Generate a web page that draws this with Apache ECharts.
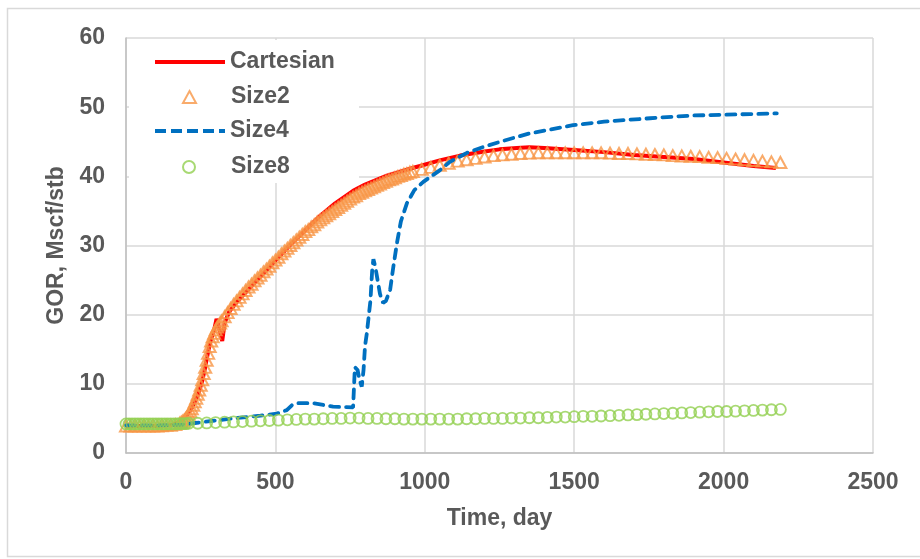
<!DOCTYPE html>
<html>
<head>
<meta charset="utf-8">
<script src="https://cdn.jsdelivr.net/npm/echarts@6/dist/echarts.min.js"></script>
<style>
  html, body { margin: 0; padding: 0; background: #fff; }
  #chart { width: 920px; height: 559px; }
</style>
</head>
<body>
<div id="chart"></div>
<script>
// x axis ticks
const xTicks = [0, 500, 1000, 1500, 2000, 2500];
const yTicks = [0, 10, 20, 30, 40, 50, 60];

// Cartesian (red line)
const cartDays = [0, 20, 100, 150, 175, 200, 220, 240, 255, 265, 275, 285, 295, 303, 312, 322, 330, 345,
    370, 400, 450, 500, 550, 600, 650, 700, 760, 800, 873, 950, 984, 1050, 1118, 1200, 1250, 1308,
    1350, 1400, 1500, 1600, 1700, 1800, 1900, 2000, 2100, 2175];
const cartGor = [3.8, 3.9, 3.9, 4.0, 4.4, 5.3, 6.5, 8.3, 10.4, 12.4, 14.7, 16.5, 17.8, 19.4, 18.0, 16.2, 18.8, 20.4,
    21.8, 23.2, 25.5, 27.8, 30.1, 32.2, 34.3, 36.1, 37.9, 38.8, 40.1, 41.1, 41.5, 42.3, 43.0, 43.6, 43.9, 44.1,
    44.2, 44.1, 43.8, 43.5, 43.1, 42.8, 42.5, 42.0, 41.5, 41.2];

// Size2 (orange triangles)
const size2Days = [0, 15, 30, 45, 60, 75, 90, 105, 120, 135, 150, 165, 180,
    185, 190, 195, 200, 205, 210, 215, 220, 225, 230, 235, 240, 245, 250, 255, 260, 265, 270,
    275, 280, 285, 290, 295, 300, 305, 310, 315, 320,
    330, 340, 350, 360, 370, 380, 390, 400, 410, 420, 430, 440, 450, 460, 470, 480, 490, 500,
    510, 520, 530, 540, 550, 560, 570, 580, 590, 600, 610, 620, 630, 640, 650, 660, 670, 680,
    690, 700, 710, 720, 730, 740, 750, 760, 770, 780, 790, 800, 810, 820, 830, 840, 850, 860,
    870, 880, 890, 900, 910, 920, 930, 940, 950,
    960, 990, 1020, 1050, 1080, 1110, 1140, 1170, 1200, 1230, 1260, 1290, 1320, 1350, 1380,
    1410, 1440, 1470, 1500, 1530, 1560, 1590, 1620, 1650, 1680, 1710, 1740, 1770, 1800, 1830,
    1860, 1890, 1920, 1950, 1980, 2010, 2040, 2070, 2100, 2130, 2160, 2190];
const size2Gor = [3.9, 3.9, 3.9, 3.9, 3.9, 3.9, 3.9, 3.9, 3.95, 4.0, 4.0, 4.1, 4.3,
    4.45, 4.6, 4.8, 5.0, 5.3, 5.6, 6.0, 6.4, 6.9, 7.4, 7.9, 8.5, 9.1, 9.8, 10.6, 11.5, 12.4, 13.4,
    14.4, 15.4, 16.2, 16.8, 17.3, 17.8, 18.2, 18.5, 18.8, 19.1,
    19.7, 20.3, 20.9, 21.5, 22.0, 22.5, 23.0, 23.5, 24.0, 24.4, 24.9, 25.3, 25.7, 26.2, 26.6, 27.0, 27.5, 27.9,
    28.3, 28.8, 29.2, 29.6, 30.0, 30.4, 30.8, 31.2, 31.6, 32.0, 32.3, 32.7, 33.0, 33.4, 33.7, 34.0, 34.3, 34.6,
    34.9, 35.2, 35.5, 35.8, 36.1, 36.4, 36.7, 37.0, 37.2, 37.5, 37.7, 37.9, 38.1, 38.3, 38.5, 38.7, 38.9, 39.1,
    39.3, 39.5, 39.6, 39.8, 40.0, 40.1, 40.3, 40.4, 40.6,
    40.7, 41.0, 41.3, 41.6, 41.9, 42.2, 42.4, 42.6, 42.8, 43.0, 43.1, 43.2, 43.3, 43.35, 43.4,
    43.4, 43.4, 43.4, 43.4, 43.4, 43.4, 43.4, 43.35, 43.3, 43.3, 43.25, 43.2, 43.15, 43.1, 43.0,
    42.95, 42.9, 42.85, 42.75, 42.7, 42.6, 42.5, 42.4, 42.3, 42.2, 42.1, 42.0];

// Size4 (blue dashed line)
const size4Days = [0, 100, 190, 224, 300, 359, 450, 505, 538, 555, 572, 626, 693, 760, 763, 766, 775, 782,
    789, 795, 800, 806, 812, 818, 824, 828, 834, 840, 850, 860, 870, 884, 895, 907, 920, 940, 965, 995,
    1051, 1084, 1141, 1200, 1252, 1350, 1496, 1600, 1754, 1900, 2088, 2178];
const size4Gor = [4.0, 4.0, 4.1, 4.3, 4.7, 5.0, 5.4, 5.7, 6.2, 6.9, 7.2, 7.2, 6.7, 6.6, 9.5, 12.4, 12.0, 10.5,
    9.6, 12.0, 15.5, 17.3, 17.5, 22.0, 26.5, 28.0, 27.0, 25.5, 23.0, 21.7, 22.0, 23.6, 27.0, 30.4, 33.5, 36.1, 38.0, 39.2,
    40.9, 42.1, 43.4, 44.3, 45.0, 46.2, 47.4, 47.9, 48.4, 48.8, 49.0, 49.1];

// Size8 (green circles)
const size8Days = [0, 10, 20, 30, 40, 50, 60, 70, 80, 90, 100, 110, 120, 130, 140, 150, 160, 170, 180, 190, 200,
    210, 240, 270, 300, 330, 360, 390, 420, 450, 480, 510, 540, 570, 600, 630, 660, 690, 720, 750, 780,
    810, 840, 870, 900, 930, 960, 990, 1020, 1050, 1080, 1110, 1140, 1170, 1200, 1230, 1260, 1290, 1320,
    1350, 1380, 1410, 1440, 1470, 1500, 1530, 1560, 1590, 1620, 1650, 1680, 1710, 1740, 1770, 1800, 1830,
    1860, 1890, 1920, 1950, 1980, 2010, 2040, 2070, 2100, 2130, 2160, 2190];
const size8Gor = [4.2, 4.2, 4.2, 4.2, 4.2, 4.2, 4.2, 4.2, 4.2, 4.2, 4.2, 4.2, 4.2, 4.2, 4.2, 4.2, 4.2, 4.2, 4.25, 4.25, 4.25,
    4.3, 4.3, 4.35, 4.4, 4.45, 4.5, 4.55, 4.6, 4.65, 4.7, 4.75, 4.8, 4.85, 4.9, 4.9, 4.95, 5.0, 5.0, 5.05, 5.05,
    5.0, 5.0, 4.95, 4.95, 4.9, 4.9, 4.9, 4.9, 4.9, 4.9, 4.9, 4.95, 4.95, 5.0, 5.0, 5.0, 5.05, 5.05,
    5.1, 5.1, 5.15, 5.2, 5.2, 5.25, 5.3, 5.3, 5.35, 5.4, 5.45, 5.5, 5.55, 5.6, 5.65, 5.7, 5.75,
    5.8, 5.85, 5.9, 5.95, 6.0, 6.0, 6.05, 6.1, 6.15, 6.2, 6.25, 6.3];

const labelGray = '#595959';
const fontFam = '"Liberation Sans", Arial, sans-serif';

// 범례 아이콘 (점선)
const dashIcon = 'path://M0,0h11v4h-11zM16,0h11v4h-11zM32,0h11v4h-11zM48,0h11v4h-11zM64,0h6v4h-6z';

function pairs(xs, ys) {
    return xs.map((x, i) => [x, ys[i]]);
}

// 범례 한 줄씩 따로 배치 (텍스트 시작 x=230 맞춤)
function legendRow(name, icon, left, top, w, h, padLeft) {
    return {
        data: [{ name: name, icon: icon }],
        left: left,
        top: top,
        padding: 0,
        itemWidth: w,
        itemHeight: h,
        selectedMode: false,
        textStyle: {
            fontSize: 23, fontWeight: 'bold', color: labelGray, fontFamily: fontFam,
            lineHeight: 26, padding: [0, 0, 0, padLeft]
        }
    };
}

let myChart = echarts.init(document.getElementById('chart'));

let option = {
    animation: false,
    backgroundColor: '#fff',
    graphic: [
        {
            type: 'rect', z: 0,
            shape: { x: 7.5, y: 8.5, width: 920, height: 548 },
            style: { fill: 'none', stroke: '#D9D9D9', lineWidth: 1.5 }
        },
        {
            // legend box covers gridlines
            type: 'rect', z: 1,
            shape: { x: 129, y: 40, width: 230, height: 143 },
            style: { fill: '#fff' }
        }
    ],
    legend: [
        legendRow('Cartesian', 'rect', 155, 49, 70, 4, 0),
        legendRow('Size2', 'triangle', 182, 84, 13, 12, 30),
        legendRow('Size4', dashIcon, 155, 118, 70, 4, 0),
        legendRow('Size8', 'circle', 182, 154, 12, 12, 31)
    ],
    grid: { left: 126, right: 47, top: 38, bottom: 106 },
    xAxis: {
        type: 'value',
        min: xTicks[0],
        max: xTicks[xTicks.length - 1],
        interval: 500,
        name: 'Time, day',
        nameLocation: 'middle',
        nameGap: 54,
        nameTextStyle: { fontSize: 23, fontWeight: 'bold', color: labelGray, fontFamily: fontFam },
        axisLine: { show: true, lineStyle: { color: '#BFBFBF', width: 1.5 } },
        axisTick: { show: false },
        axisLabel: {
            margin: 18, fontSize: 23, fontWeight: 'bold', color: labelGray, fontFamily: fontFam,
            formatter: (v) => String(v)
        },
        splitLine: { show: true, lineStyle: { color: '#D9D9D9', width: 1.5 } }
    },
    yAxis: {
        type: 'value',
        min: yTicks[0],
        max: yTicks[yTicks.length - 1],
        interval: 10,
        name: 'GOR, Mscf/stb',
        nameLocation: 'middle',
        nameGap: 58,
        nameTextStyle: { fontSize: 23, fontWeight: 'bold', color: labelGray, fontFamily: fontFam },
        axisLine: { show: true, lineStyle: { color: '#BFBFBF', width: 1.5 } },
        axisTick: { show: false },
        axisLabel: { margin: 21, fontSize: 23, fontWeight: 'bold', color: labelGray, fontFamily: fontFam },
        splitLine: { show: true, lineStyle: { color: '#D9D9D9', width: 1.5 } }
    },
    series: [
        {
            name: 'Cartesian',
            type: 'line',
            z: 2,
            symbol: 'none',
            data: pairs(cartDays, cartGor),
            itemStyle: { color: '#FF0000' },
            lineStyle: { color: '#FF0000', width: 4 }
        },
        {
            name: 'Size2',
            type: 'scatter',
            z: 3,
            symbol: 'triangle',
            symbolSize: [12, 11],
            data: pairs(size2Days, size2Gor),
            itemStyle: { color: 'rgba(255,255,255,0)', borderColor: '#F79646', borderWidth: 2 }
        },
        {
            name: 'Size4',
            type: 'line',
            z: 4,
            symbol: 'none',
            data: pairs(size4Days, size4Gor),
            itemStyle: { color: '#0070C0' },
            lineStyle: { color: '#0070C0', width: 3.8, type: [9, 7], cap: 'round' }
        },
        {
            name: 'Size8',
            type: 'scatter',
            z: 5,
            symbol: 'circle',
            symbolSize: 11,
            data: pairs(size8Days, size8Gor),
            itemStyle: { color: 'rgba(255,255,255,0)', borderColor: '#92D050', borderWidth: 1.8 }
        }
    ]
};

option && myChart.setOption(option);
</script>
</body>
</html>
